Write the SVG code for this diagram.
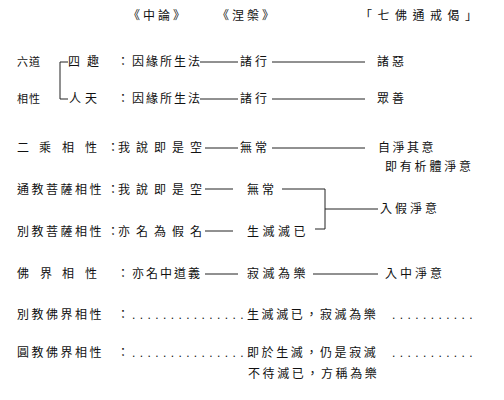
<svg xmlns="http://www.w3.org/2000/svg" width="504" height="400" viewBox="0 0 504 400">
<style>
text{font-family:"Noto Sans CJK TC","Noto Sans CJK SC",sans-serif;font-size:12px;fill:#111;}
.c{text-anchor:middle;}
.s{font-size:11px;}
#connectors path{stroke:#222;stroke-width:1;fill:none;}
.dots{font-family:"Liberation Sans",sans-serif;letter-spacing:4.4px;}
</style>
<rect width="504" height="400" fill="#fff"/>
<g id="headers">
<text x="128" y="20" letter-spacing="3">《中論》</text>
<text x="217" y="20" letter-spacing="3">《涅槃》</text>
<text x="360" y="20" letter-spacing="5.5">「七佛通戒偈」</text>
</g>
<g id="connectors">
<path d="M68,62 H60 V99 H68"/>
<path d="M200,62 H238 M272,62 H365"/>
<path d="M200,99 H238 M272,99 H365"/>
<path d="M205,148 H238 M272,148 H365"/>
<path d="M205,189 H233 M205,231 H233"/>
<path d="M282,189 H325 V229 H315 M325,209 H378"/>
<path d="M205,274 H238 M313,274 H378"/>
</g>
<g id="row-liudao">
<text class="s" x="17 29" y="66">六道</text>
<text class="s" x="17 29" y="103">相性</text>
<text x="68 87" y="66">四趣</text>
<text x="69 85" y="103">人天</text>
<text class="c" x="123" y="66">：</text>
<text class="c" x="123" y="103">：</text>
<text x="132" y="66" letter-spacing="2">因緣所生法</text>
<text x="132" y="103" letter-spacing="2">因緣所生法</text>
<text x="240 255" y="66">諸行</text>
<text x="240 255" y="103">諸行</text>
<text x="377 392" y="66">諸惡</text>
<text x="377 392" y="103">眾善</text>
</g>
<g id="row-ercheng">
<text x="17 39 62 85" y="152">二乘相性</text>
<text class="c" x="113" y="152">：</text>
<text x="118" y="152" letter-spacing="6">我說即是空</text>
<text x="240 255" y="152">無常</text>
<text x="378" y="152" letter-spacing="2.5">自淨其意</text>
<text x="385" y="171" letter-spacing="2.8">即有析體淨意</text>
</g>
<g id="row-tongjiao">
<text x="17" y="194" letter-spacing="2.5">通教菩薩相性</text>
<text class="c" x="113" y="194">：</text>
<text x="118" y="194" letter-spacing="6">我說即是空</text>
<text x="247 262" y="194">無常</text>
</g>
<g id="row-biejiao-pusa">
<text x="17" y="236" letter-spacing="2.5">別教菩薩相性</text>
<text class="c" x="113" y="236">：</text>
<text x="118" y="236" letter-spacing="6">亦名為假名</text>
<text x="247" y="236" letter-spacing="3.5">生滅滅已</text>
</g>
<g id="node-rujia">
<text x="380" y="213" letter-spacing="3">入假淨意</text>
</g>
<g id="row-fojie">
<text x="17 40 62 85" y="278">佛界相性</text>
<text class="c" x="123" y="278">：</text>
<text x="132" y="278" letter-spacing="2">亦名中道義</text>
<text x="247" y="278" letter-spacing="3.5">寂滅為樂</text>
<text x="385" y="278" letter-spacing="3">入中淨意</text>
</g>
<g id="row-biejiao-fojie">
<text x="17" y="319" letter-spacing="2.5">別教佛界相性</text>
<text class="c" x="123" y="319">：</text>
<text class="dots" x="132" y="319">...............</text>
<text x="247" y="319" letter-spacing="2.6">生滅滅已，寂滅為樂</text>
<text class="dots" x="392" y="319">...........</text>
</g>
<g id="row-yuanjiao-fojie">
<text x="17" y="357" letter-spacing="2.5">圓教佛界相性</text>
<text class="c" x="123" y="357">：</text>
<text class="dots" x="132" y="357">...............</text>
<text x="247" y="357" letter-spacing="2.6">即於生滅，仍是寂滅</text>
<text class="dots" x="392" y="357">...........</text>
<text x="248" y="378" letter-spacing="2.6">不待滅已，方稱為樂</text>
</g>
</svg>
